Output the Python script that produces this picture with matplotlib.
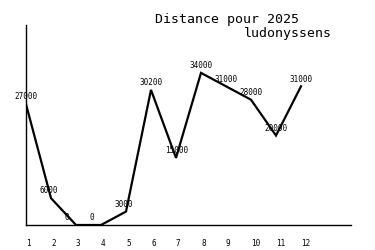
import matplotlib.pyplot as plt

# Données
mois = [1, 2, 3, 4, 5, 6, 7, 8, 9, 10, 11, 12]
distances = [27000, 6000, 0, 0, 3000, 30200, 15000, 34000, 31000, 28000, 20000, 31000]
etiquettes = ["27000", "6000", "0", "0", "3000", "30200", "15000", "34000",
              "31000", "28000", "20000", "31000"]

fig = plt.figure(figsize=(3.75, 2.5), dpi=100)
ax = fig.add_axes([26 / 375, 25 / 250, 325 / 375, 200 / 250])

ax.plot(mois, distances, color='black', linewidth=1.6, solid_joinstyle='miter')

for m, d, lab in zip(mois, distances, etiquettes):
    ax.annotate(lab, (m, d), xytext=(-8, 2), textcoords='offset points',
                ha='left', va='bottom', fontsize=5.5, family='DejaVu Sans Mono')

ax.set_xlim(1, 14)
ax.set_ylim(0, 44700)
ax.set_yticks([])
ax.set_xticks(mois)
ax.set_xticklabels([str(m) for m in mois], fontsize=5.5, family='DejaVu Sans Mono',
                   ha='left')
ax.tick_params(axis='x', length=0, pad=10)
ax.spines['top'].set_visible(False)
ax.spines['right'].set_visible(False)
ax.spines['left'].set_linewidth(1)
ax.spines['bottom'].set_linewidth(1)

fig.text(227 / 375, 1 - 19 / 250, "Distance pour 2025", ha='center', va='center',
         fontsize=9.5, family='DejaVu Sans Mono')
fig.text(332 / 375, 1 - 33 / 250, "ludonyssens", ha='right', va='center',
         fontsize=9.5, family='DejaVu Sans Mono')

fig.savefig('out.png', dpi=100)
